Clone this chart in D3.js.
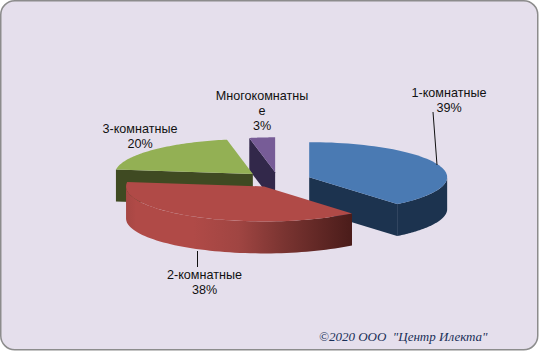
<!DOCTYPE html>
<html>
<head>
<meta charset="utf-8">
<script src="https://cdn.jsdelivr.net/npm/d3@7"></script>
<style>
    html, body { margin: 0; padding: 0; background: #fff; }
    svg { display: block; }
    text { font-family: "Liberation Sans", Arial, sans-serif; font-size: 12.6px; fill: #111; }
    .credit { font-family: "Liberation Serif", "Times New Roman", serif; font-style: italic; font-size: 13px; fill: #1a2f58; white-space: pre; }
</style>
</head>
<body>
<div id="chart"></div>
<script>
// values
const categories = ["1-комнатные", "2-комнатные", "3-комнатные", "Многокомнатные"];
const shares = [39, 38, 20, 3];
const shareLabels = ["39%", "38%", "20%", "3%"];
const explode = [0.24, 0.21, 0.25, 0.22];

const topColors = ["#4a7ab3", "#b04a47", "#93b054", "#775c97"];
const sideColors = ["#1c334f", "url(#redSide)", "#3f4a22", "#32284a"];

const width = 539, height = 351;
const cx = 278, cy = 180, rx = 138, ry = 35, depth = 32;

// label lines per slice, the long one wraps in the original
const labelLayout = [
    {x: 449, y: 97, lines: [categories[0], shareLabels[0]]},
    {x: 204.5, y: 279, lines: [categories[1], shareLabels[1]]},
    {x: 140, y: 133, lines: [categories[2], shareLabels[2]]},
    {x: 262, y: 100, lines: ["Многокомнатны", "е", shareLabels[3]]}
];

let svg = d3.select("#chart").append("svg")
    .attr("width", width)
    .attr("height", height);

// gradient for the long red rim
let grad = svg.append("defs").append("linearGradient")
    .attr("id", "redSide")
    .attr("gradientUnits", "userSpaceOnUse")
    .attr("x1", 125).attr("x2", 352).attr("y1", 0).attr("y2", 0);
[[0, "#a54643"], [0.05, "#b04a47"], [0.3, "#b04a47"], [0.5, "#a04542"], [0.7, "#7a3431"], [1, "#4a1c1a"]].forEach(s => {
    grad.append("stop").attr("offset", s[0]).attr("stop-color", s[1]);
});

// frame
svg.append("rect")
    .attr("x", 0.75).attr("y", 0.75)
    .attr("width", width - 2).attr("height", height - 2)
    .attr("rx", 14)
    .attr("fill", "#e5dfec")
    .attr("stroke", "#8c8c8c")
    .attr("stroke-width", 1.5);

// unit circle -> flattened ellipse
let xScale = d3.scaleLinear().domain([-1, 1]).range([-rx, rx]);
let yScale = d3.scaleLinear().domain([-1, 1]).range([ry, -ry]);

let pie = d3.pie().sort(null).value(d => d);
let slices = pie(shares).map((d, i) => {
    let mid = (d.startAngle + d.endAngle) / 2;
    return {
        index: i,
        start: d.startAngle,
        end: d.endAngle,
        ox: cx + xScale(Math.sin(mid)) * explode[i],
        oy: cy + yScale(Math.cos(mid)) * explode[i]
    };
});

let line = d3.line();
const project = (s, a, dy = 0) => [s.ox + xScale(Math.sin(a)), s.oy + yScale(Math.cos(a)) + dy];
const arcPoints = (s, a0, a1, dy = 0) => d3.range(0, 61).map(k => project(s, a0 + (a1 - a0) * k / 60, dy));

function topPath(s) {
    return line([[s.ox, s.oy], ...arcPoints(s, s.start, s.end)]) + "Z";
}

// rim along the front half of the ellipse
function rimPath(s) {
    let a0 = Math.max(s.start, Math.PI / 2);
    let a1 = Math.min(s.end, Math.PI * 1.5);
    if (a1 <= a0) return null;
    return line([...arcPoints(s, a0, a1), ...arcPoints(s, a1, a0, depth)]) + "Z";
}

// cut face that looks towards the viewer
function cutPath(s) {
    let a = s.index === 0 ? s.end : s.start;
    if (s.index === 1) return null;
    if (s.index === 0) {
        return line([[s.ox, s.oy], project(s, a), project(s, a, depth), [s.ox, s.oy + depth]]) + "Z";
    }
    return line([project(s, a), [s.ox, s.oy], [s.ox, s.oy + depth], project(s, a, depth)]) + "Z";
}

// painted back to front: purple, green, blue, red
[3, 2, 0, 1].forEach(i => {
    let s = slices[i];
    let g = svg.append("g").attr("class", "slice");
    let cut = cutPath(s);
    if (cut) g.append("path").attr("d", cut).attr("fill", sideColors[i]);
    let rim = rimPath(s);
    if (rim) g.append("path").attr("d", rim).attr("fill", sideColors[i]);
    g.append("path").attr("d", topPath(s)).attr("fill", topColors[i]);
});

// leader lines
svg.append("path").attr("d", line(
    [[437, 165], [433, 112]])).attr("stroke", "#111").attr("fill", "none");
svg.append("path").attr("d", line(
    [[197.5, 251], [197.5, 267]])).attr("stroke", "#111").attr("fill", "none");

// labels
labelLayout.forEach(l => {
    svg.append("text")
        .attr("text-anchor", "middle")
        .selectAll("tspan")
        .data(l.lines)
        .join("tspan")
        .attr("x", l.x)
        .attr("y", (d, i) => l.y + i * 15)
        .text(d => d);
});

svg.append("text")
    .attr("class", "credit")
    .attr("x", 319)
    .attr("y", 341)
    .text('©2020 ООО  "Центр Илекта"');
</script>
</body>
</html>
